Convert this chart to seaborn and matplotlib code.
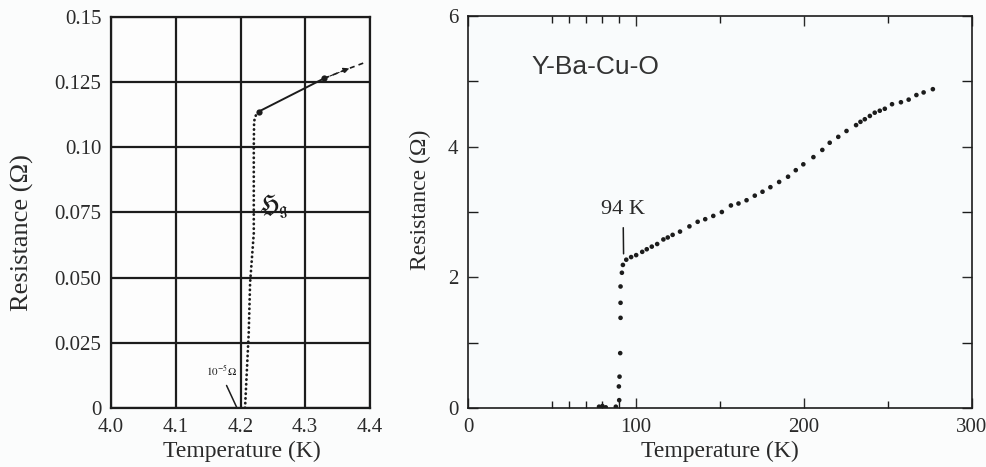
import matplotlib
matplotlib.use("Agg")
import matplotlib.pyplot as plt
import pandas as pd
import seaborn as sns

# left panel: mercury, Kamerlingh Onnes
HG_TICKS_T = [4.0, 4.1, 4.2, 4.3, 4.4]
HG_TICKS_R = [0, 0.025, 0.050, 0.075, 0.10, 0.125, 0.15]
HG_TICK_LABELS_R = ["0", "0.025", "0.050", "0.075", "0.10", "0.125", "0.15"]
HG_DROP_T = [4.207, 4.2127, 4.2148, 4.2205, 4.2205, 4.221, 4.224, 4.228]
HG_DROP_R = [0.0, 0.0288, 0.048, 0.067, 0.100, 0.110, 0.1125, 0.1137]
HG_NORMAL_T = [4.228, 4.3295]
HG_NORMAL_R = [0.1137, 0.1265]
HG_EXTRAP_T = [4.3295, 4.368, 4.3917]
HG_EXTRAP_R = [0.1265, 0.1303, 0.1325]

# right panel: Y-Ba-Cu-O
YBCO_T = [78, 80, 82, 88, 90, 89.8, 90.2, 90.6, 90.8, 90.8, 90.8, 91.6, 92.2, 94.2,
          97.1, 100.1, 103.7, 106.4, 109.4, 112.6, 116.3, 118.9, 121.8, 126.2,
          131.8, 136.7, 141.2, 146.0, 151.1, 156.5, 161.0, 165.8, 170.7, 175.3,
          180.0, 185.2, 190.5, 195.1, 199.6, 205.6, 210.9, 215.3, 220.4, 225.3,
          231.0, 233.6, 236.2, 239.2, 242.1, 245.1, 248.1, 252.4, 257.7, 262.3,
          266.9, 271.2, 276.7]
YBCO_R = [0.02, 0.03, 0.01, 0.02, 0.12, 0.33, 0.48, 0.84, 1.38, 1.61, 1.86, 2.07,
          2.19, 2.27, 2.31, 2.34, 2.39, 2.43, 2.47, 2.51, 2.58, 2.61, 2.65, 2.70,
          2.78, 2.85, 2.89, 2.94, 3.00, 3.10, 3.13, 3.18, 3.25, 3.31, 3.38, 3.46,
          3.54, 3.64, 3.73, 3.84, 3.95, 4.06, 4.15, 4.24, 4.33, 4.38, 4.42, 4.47,
          4.52, 4.55, 4.58, 4.65, 4.68, 4.72, 4.79, 4.83, 4.88]

INK = "#1c1c1c"
TEXT = "#2a2a2a"


def draw_mercury(ax):
    drop = pd.DataFrame({"T": HG_DROP_T, "R": HG_DROP_R})
    normal = pd.DataFrame({"T": HG_NORMAL_T, "R": HG_NORMAL_R})
    extrap = pd.DataFrame({"T": HG_EXTRAP_T, "R": HG_EXTRAP_R})

    sns.lineplot(data=drop, x="T", y="R", ax=ax, estimator=None, sort=False,
                 color=INK, lw=2.0, linestyle=(0, (0.1, 1.6)),
                 dash_capstyle="round")
    sns.lineplot(data=normal, x="T", y="R", ax=ax, estimator=None, sort=False,
                 color=INK, lw=1.4, marker="o", markersize=4.5,
                 markeredgewidth=0)
    sns.lineplot(data=extrap, x="T", y="R", ax=ax, estimator=None, sort=False,
                 color=INK, lw=1.2, linestyle=(0, (3, 2.5)))
    ax.annotate("", xy=(HG_EXTRAP_T[1], HG_EXTRAP_R[1]),
                xytext=(HG_EXTRAP_T[0], HG_EXTRAP_R[0]),
                arrowprops=dict(arrowstyle="-|>", color=INK, lw=0.8,
                                mutation_scale=9, shrinkA=0, shrinkB=0,
                                linestyle="--"))

    ax.set_xlim(4.0, 4.4)
    ax.set_ylim(0, 0.15)
    ax.set_xticks(HG_TICKS_T)
    ax.set_xticklabels([f"{t:.1f}" for t in HG_TICKS_T])
    ax.set_yticks(HG_TICKS_R)
    ax.set_yticklabels(HG_TICK_LABELS_R)
    ax.grid(True, color=INK, lw=1.6)
    ax.tick_params(length=0, labelsize=15, colors=TEXT, pad=7)
    for s in ax.spines.values():
        s.set_color(INK)
        s.set_linewidth(1.6)

    ax.text(4.2517, 0.0772, r"$\mathfrak{H}_{\mathfrak{g}}$", fontsize=17,
            ha="center", va="center", color=INK)
    ax.annotate(r"$10^{-5}\Omega$", xy=(4.1946, 0.0), xytext=(4.171, 0.0142),
                fontsize=8, ha="center", va="center", color=INK,
                arrowprops=dict(arrowstyle="-", color=INK, lw=1.1,
                                relpos=(0.55, 0.0), shrinkA=3, shrinkB=0))

    ax.set_xlabel("Temperature (K)", fontsize=17, color=TEXT)
    ax.set_ylabel("Resistance (Ω)", fontsize=19, color=TEXT)
    ax.xaxis.set_label_coords(0.506, -0.11)
    ax.yaxis.set_label_coords(-0.34, 0.448)
    ax.xaxis.label.set_va("center")
    ax.yaxis.label.set_va("center")


def draw_ybco(ax):
    df = pd.DataFrame({"T": YBCO_T, "R": YBCO_R})
    sns.scatterplot(data=df, x="T", y="R", ax=ax, color=INK, s=11,
                    edgecolor="none", legend=False)

    ax.set_xlim(0, 300)
    ax.set_ylim(0, 6)
    ax.set_xticks([0, 100, 200, 300])
    ax.set_xticks([50, 60, 70, 80, 90, 150, 250], minor=True)
    ax.set_yticks([0, 2, 4, 6])
    ax.set_yticks([1, 3, 5], minor=True)
    ax.tick_params(which="both", direction="in", bottom=True, left=True,
                   right=True, top=True, color=INK, width=1.0)
    ax.tick_params(which="major", length=7, labelsize=15, colors=TEXT, pad=7)
    ax.tick_params(axis="y", which="minor", length=7)
    ax.tick_params(axis="x", which="minor", length=5)
    ax.tick_params(axis="y", which="both", right=True)
    for s in ax.spines.values():
        s.set_color(INK)
        s.set_linewidth(1.2)

    ax.text(76, 5.22, "Y-Ba-Cu-O", fontsize=19, family="Liberation Sans",
            ha="center", va="center", color="#333333")
    ax.annotate("94 K", xy=(92.6, 2.36), xytext=(92.3, 3.04), fontsize=16,
                ha="center", va="center", color=TEXT,
                arrowprops=dict(arrowstyle="-", color=INK, lw=1.1,
                                shrinkA=4, shrinkB=0))

    ax.set_xlabel("Temperature (K)", fontsize=17, color=TEXT)
    ax.set_ylabel("Resistance (Ω)", fontsize=17, color=TEXT)
    ax.xaxis.set_label_coords(0.5, -0.112)
    ax.yaxis.set_label_coords(-0.095, 0.531)
    ax.xaxis.label.set_va("center")
    ax.yaxis.label.set_va("center")


def main() -> None:
    sns.set_theme(style="white")
    plt.rcParams["font.family"] = ["Liberation Serif", "DejaVu Serif"]
    plt.rcParams["mathtext.fontset"] = "stix"

    fig = plt.figure(figsize=(9.87, 4.67), dpi=100, facecolor="#fbfcfc")
    ax_hg = fig.add_axes([111 / 987, 59 / 467, 259 / 987, 391 / 467])
    ax_yb = fig.add_axes([468 / 987, 59 / 467, 504 / 987, 392 / 467])
    ax_hg.set_facecolor("#fdfdfd")
    ax_yb.set_facecolor("#f9fbfc")

    draw_mercury(ax_hg)
    draw_ybco(ax_yb)

    fig.savefig("out.png", dpi=100, facecolor=fig.get_facecolor())
    plt.close(fig)


if __name__ == "__main__":
    main()
